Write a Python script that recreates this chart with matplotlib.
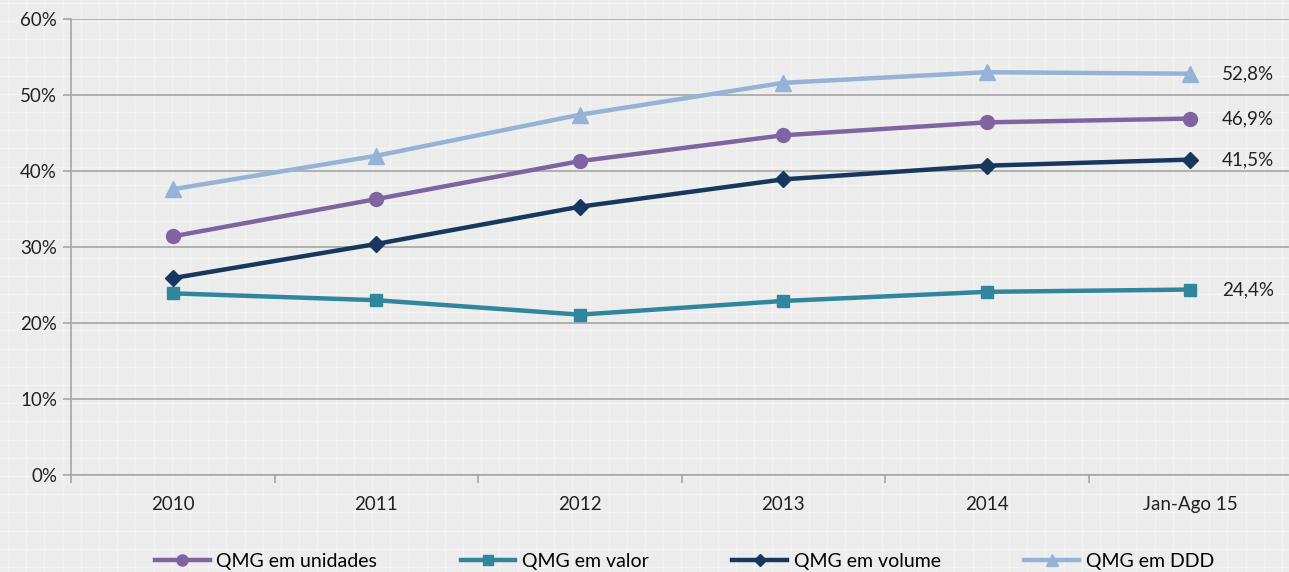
import matplotlib
matplotlib.use("Agg")
import matplotlib.pyplot as plt
import numpy as np

categories = ["2010", "2011", "2012", "2013", "2014", "Jan-Ago 15"]
unidades = [31.4, 36.3, 41.3, 44.7, 46.4, 46.9]
valor = [23.9, 23.0, 21.1, 22.9, 24.1, 24.4]
volume = [25.9, 30.4, 35.3, 38.9, 40.7, 41.5]
ddd = [37.6, 42.0, 47.4, 51.6, 53.0, 52.8]
series_names = ["QMG em unidades", "QMG em valor", "QMG em volume", "QMG em DDD"]
yticks = [0, 10, 20, 30, 40, 50, 60]

W, H = 1289, 572
fig = plt.figure(figsize=(W / 100, H / 100), dpi=100)
fig.patch.set_facecolor("#ececec")

# background paper grid
bg = fig.add_axes([0, 0, 1, 1])
bg.set_xlim(0, W)
bg.set_ylim(0, H)
bg.axis("off")
for x in np.arange(8, W, 18.2):
    bg.axvline(x, color="#f3f3f3", lw=1.0, zorder=0)
for y in np.arange(5, H, 18.2):
    bg.axhline(y, color="#f3f3f3", lw=1.0, zorder=0)

left, right, top, bottom = 71, 1292, 19, 475
ax = fig.add_axes([left / W, 1 - bottom / H, (right - left) / W, (bottom - top) / H])
ax.set_facecolor("none")
ax.patch.set_alpha(0)

x = np.arange(len(categories))
font = ["Lato", "DejaVu Sans"]
styles = [
    (unidades, "#8064a2", "o", 10),
    (valor, "#31859c", "s", 9),
    (volume, "#17375e", "D", 8),
    (ddd, "#95b3d7", "^", 11),
]
for (vals, col, mk, ms), name in zip(styles, series_names):
    ax.plot(x, vals, color=col, lw=3.2, marker=mk, markersize=ms,
            markeredgecolor=col, markerfacecolor=col, label=name, zorder=3,
            clip_on=False)
    ax.text(x[-1] + 0.155, vals[-1], f"{vals[-1]:.1f}%".replace(".", ","),
            ha="left", va="center", fontsize=13.5, color="#222222", family=font)

ax.set_xlim(-0.5, len(categories) - 0.5)
ax.set_ylim(0, 60)
ax.set_yticks(yticks)
ax.set_yticklabels([f"{v}%" for v in yticks], fontsize=13.5, color="#222222", family=font)
ax.yaxis.grid(True, color="#a6a6a6", lw=1.2)
ax.set_axisbelow(True)
ax.set_xticks(x)
ax.set_xticklabels(categories, fontsize=13.5, color="#222222", family=font)
ax.set_xticks(np.arange(-0.5, len(categories), 1), minor=True)
ax.tick_params(axis="x", which="major", length=0, pad=15)
ax.tick_params(axis="x", which="minor", length=6, color="#a6a6a6", width=1.2)
ax.tick_params(axis="y", length=6, color="#a6a6a6", width=1.2, pad=4)
for s in ["top", "right"]:
    ax.spines[s].set_visible(False)
for s in ["left", "bottom"]:
    ax.spines[s].set_color("#a6a6a6")
    ax.spines[s].set_linewidth(1.2)

leg_handles = []
for (vals, col, mk, ms), name in zip(styles, series_names):
    lh, = ax.plot([], [], color=col, lw=3.2, marker=mk, markersize=ms * 0.8,
                  markeredgecolor=col, markerfacecolor=col)
    leg_handles.append(lh)

fig.legend(handles=leg_handles, labels=series_names, loc="center", ncol=4,
           bbox_to_anchor=(0.531, 1 - 561 / H), frameon=False,
           prop={"family": font, "size": 14}, handlelength=2.8,
           columnspacing=4.3, handletextpad=0.35)

fig.savefig("out.png", dpi=100, facecolor=fig.get_facecolor())
